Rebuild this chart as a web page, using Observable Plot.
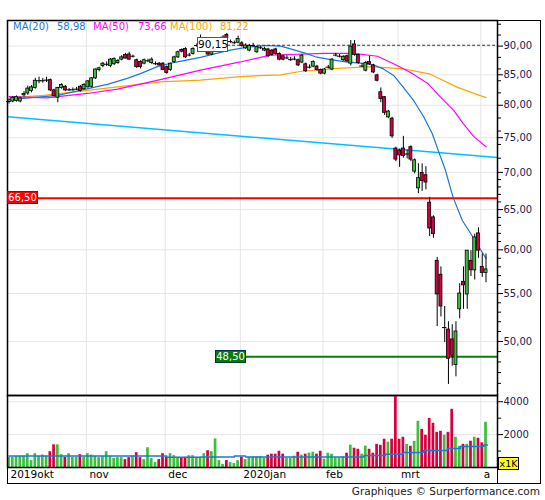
<!DOCTYPE html>
<html><head><meta charset="utf-8">
<script src="https://cdn.jsdelivr.net/npm/d3@7"></script>
<script src="https://cdn.jsdelivr.net/npm/@observablehq/plot@0.6"></script>
<style>
body{margin:0;background:#fff;font-family:"DejaVu Sans",sans-serif;}
#wrap{position:relative;width:545px;height:500px;overflow:hidden;background:#fff;}
#wrap svg{position:absolute;left:0;}
.box{position:absolute;font-size:10px;line-height:12px;text-align:center;box-sizing:border-box;white-space:nowrap;}
.leg{position:absolute;top:21px;font-size:10px;line-height:12px;white-space:nowrap;}
</style></head><body><div id="wrap"></div>
<script>
// ---- data ----
const openP = [80.6,80.6,80.7,80.6,81.6,81.9,82.3,82.8,84.0,84.0,84.1,84.1,82.4,81.2,82.8,83.0,82.5,82.5,82.6,83.0,82.6,
82.9,83.0,84.4,85.8,86.5,86.8,86.5,86.8,87.0,87.6,88.4,88.5,88.2,87.5,87.2,86.9,87.4,87.0,86.9,86.9,86.9,
86.3,85.8,87.2,88.0,89.3,89.5,88.4,88.6,90.1,91.4,89.7,89.2,88.5,90.0,90.4,91.6,92.0,90.8,90.6,90.6,
90.5,89.6,89.2,90.1,88.9,89.7,89.2,89.4,89.2,89.4,88.6,88.2,87.9,87.6,87.7,87.5,87.1,86.8,86.3,86.4,86.4,85.8,
85.2,86.3,85.9,88.4,88.2,87.5,88.2,86.9,90.3,88.4,86.5,85.7,87.2,86.6,84.9,82.1,81.3,78.1,77.9,73.4,
73.1,73.4,72.6,73.6,70.1,67.8,69.9,69.6,65.9,64.0,58.7,57.1,51.4,51.2,50.2,47.7,53.3,56.3,54.9,58.7,57.6,62.0,
58.0,57.3];
const highP = [81.0,81.4,81.5,81.3,82.2,83.1,83.2,84.4,84.6,84.4,84.6,84.3,82.6,82.9,83.5,83.2,82.7,82.8,82.9,83.2,83.5,
84.0,84.5,86.0,86.3,87.1,87.2,87.8,87.9,87.6,88.3,88.7,88.9,88.4,87.7,87.4,87.7,87.7,87.9,87.2,87.1,87.1,
86.5,87.0,88.2,89.1,89.5,89.7,88.7,89.7,90.4,92.0,90.8,89.4,89.6,90.5,91.2,91.9,92.3,91.1,90.9,91.8,
90.8,90.4,90.3,90.5,90.0,90.0,89.8,89.6,89.4,89.6,88.8,88.4,88.3,88.0,88.1,87.7,88.5,87.0,86.7,87.4,86.6,86.0,
86.1,86.6,87.8,88.7,88.5,88.3,88.4,91.0,91.0,88.6,86.9,87.3,88.2,86.8,85.1,82.8,81.4,79.2,78.1,73.6,
73.3,75.2,73.2,73.8,71.9,71.2,71.2,70.8,66.6,64.2,59.1,58.0,53.6,52.0,51.7,52.0,56.1,58.0,59.9,59.9,61.9,62.7,
59.5,59.5];
const lowP = [80.2,80.4,80.5,80.4,81.3,81.6,82.0,82.6,83.5,83.6,83.7,82.2,81.3,80.4,82.6,82.2,82.2,82.3,82.4,82.1,82.5,
82.8,82.8,84.2,85.5,86.2,86.4,86.2,86.6,86.8,87.4,87.7,87.5,87.9,86.1,86.0,86.7,87.1,86.8,86.6,86.5,85.7,
85.1,85.6,87.0,87.8,88.8,87.8,88.1,88.4,89.8,91.0,89.5,88.3,88.3,89.6,90.0,91.2,91.2,90.5,90.3,90.4,
89.8,89.4,89.0,89.8,88.7,89.4,89.0,88.0,88.2,88.4,87.4,87.4,87.6,87.3,87.4,86.4,86.9,85.4,86.0,86.2,85.6,85.0,
85.0,86.0,85.7,88.1,87.9,87.3,87.1,86.5,88.2,86.8,86.2,85.5,86.6,85.2,83.8,80.4,78.4,77.9,74.9,71.5,
70.7,72.0,71.9,71.5,69.8,67.1,67.4,67.6,61.6,61.4,51.5,52.5,49.9,45.9,47.6,46.6,52.3,53.3,53.3,56.9,56.5,59.0,
56.8,56.2];
const closeP = [80.6,81.2,81.3,81.1,81.8,82.7,82.9,84.0,84.0,84.0,84.1,82.4,81.5,82.8,83.3,82.4,82.5,82.5,82.6,82.3,83.3,
83.9,84.4,85.9,86.1,86.9,86.8,87.6,87.7,87.4,88.0,87.8,87.6,88.2,86.3,86.3,87.5,87.4,87.6,86.9,86.6,85.8,
85.3,86.9,88.0,88.9,89.0,88.0,88.4,89.5,90.1,91.4,90.5,88.5,89.4,90.2,90.8,91.6,91.4,90.8,90.6,91.3,
90.0,90.1,90.0,90.1,89.8,89.7,89.5,88.2,88.4,88.6,87.6,87.6,87.9,87.6,87.7,86.6,88.3,85.6,86.3,87.2,85.8,85.2,
85.9,86.3,87.6,88.4,88.2,88.1,87.3,89.9,88.4,87.0,86.5,87.0,86.8,85.4,84.0,81.0,78.8,79.0,75.2,71.8,
72.4,72.3,72.6,71.8,71.7,69.2,68.8,68.6,62.6,61.9,54.9,53.6,51.4,48.3,48.6,51.0,55.0,55.9,59.9,57.6,61.5,59.9,
57.3,57.7];
const volume = [620,620,680,680,680,840,420,840,680,760,680,960,1380,1380,780,620,840,620,620,780,
620,840,760,680,600,680,960,680,560,600,600,480,600,720,900,600,480,1200,540,300,
480,840,620,840,720,620,560,620,720,720,620,620,840,1020,960,1740,420,180,420,300,
240,420,620,480,620,
650,650,650,570,750,810,810,990,810,570,570,690,930,750,810,870,930,810,990,510,
870,810,590,590,650,870,1360,1170,1110,810,1300,1110,870,1410,1350,1720,1540,1720,4340,1720,
1840,1410,1290,1590,2810,2320,1960,2990,2690,2140,2200,1960,2140,3540,1840,1290,1410,1410,1600,1840,
1780,1500,2750];
// moving averages: [day index, value]
const ma20 = [[0,80.9],[13,81.6],[20.4,82.6],[26.2,83.4],[31.5,84.4],[35,85.2],[39.5,86.4],[43.8,87.1],[51,88.0],[58.2,89.2],[63.5,89.8],[68.3,90.1],[72.3,90.0],[75,89.5],[79,88.7],[81.6,88.1],[85.6,87.6],[89.6,87.2],[93.6,87.0],[97,86.7],[99.7,86.0],[102.4,84.9],[105,82.9],[107.7,80.8],[110.4,78.2],[112.7,75.6],[114.3,73.1],[116.2,70.3],[118,67.0],[118.4,66.4],[120.7,63.6],[123.3,61.7],[126,59.7],[127,58.98]];
const ma50 = [[0,81.4],[10,81.2],[20.9,81.9],[28.9,82.6],[40.3,84.2],[51,85.8],[61.6,87.2],[69.6,88.4],[75,88.5],[83.8,88.7],[91.7,88.7],[98.1,88.2],[102.4,86.9],[106.9,85.4],[111.4,83.6],[114.9,81.3],[118.4,79.2],[121,77.1],[123.7,75.2],[127,73.66]];
const ma100 = [[0,81.2],[9.2,81.6],[20.9,82.4],[40.3,83.8],[51,84.1],[61.6,84.7],[72.3,85.0],[77.9,85.6],[87.5,86.1],[96.3,86.4],[105,86.0],[112.2,85.1],[119.4,82.9],[127,81.22]];
const volMA = [[0,700],[42,620],[51,640],[60,700],[63,640],[65,646],[94.5,727],[100.2,808],[105,909],[110.4,1030],[116.7,1150],[120.2,1270],[126.4,1370],[127.4,1370]];
const trendIdx = [-0.4, 130.06];
const trendVal = [78.2, 72.1];
const monthStart = [0,21,42,62,84,104,126];
const monthLabels = ["2019okt","nov","dec","2020jan","feb","mrt","a"];
const priceMajor = [50,55,60,65,70,75,80,85,90];
const priceMinor = [46,47,48,49,51,52,53,54,56,57,58,59,61,62,63,64,66,67,68,69,72,74,76,78,82,84,86,88,92,94];
const volMajor = [2000,4000];
const volMinor = [1000,3000];
const legend = [["MA(20)","58,98"],["MA(50)","73,66"],["MA(100)","81,22"]];
const highLevel = 90.15, resistance = 66.5, support = 48.5;

// ---- styles ----
const GREEN="#3cbf3c", RED="#d6003e", BLUE="#1a78d8", MAG="#ff00ff", ORG="#ffa500", SKY="#00bfff", NAVY="#1a1a55";
const X_DOMAIN = [-0.4, 130.06];
const fmt = d => d.toFixed(2).replace(".", ",");
const rows = closeP.map((c,i)=>({i, o:openP[i], h:highP[i], l:lowP[i], c, v:volume[i], up: c>=openP[i]}));
const pts = a => a.map(([i,v])=>({i,v}));
const style = {fontFamily:"DejaVu Sans, sans-serif", fontSize:"10px", background:"transparent", overflow:"visible", color:"#000"};

const main = Plot.plot({
  width:545, height:395, marginTop:20, marginBottom:0, marginLeft:7, marginRight:48, style,
  x:{domain:X_DOMAIN, axis:null},
  y:{type:"log", domain:[44.9,94.7]},
  color:{type:"identity"},
  marks:[
    Plot.ruleY(priceMajor, {stroke:"#e6e6e6"}),
    Plot.ruleX(monthStart.slice(1), {x:d=>d-0.4, stroke:"#e6e6e6"}),
    Plot.line(trendIdx.map((i,k)=>({i, v:trendVal[k]})), {x:"i", y:"v", stroke:SKY, strokeWidth:1.5}),
    Plot.line(pts(ma100), {x:"i", y:"v", stroke:ORG, strokeWidth:1.2}),
    Plot.line(pts(ma50), {x:"i", y:"v", stroke:MAG, strokeWidth:1.2}),
    Plot.line(pts(ma20), {x:"i", y:"v", stroke:BLUE, strokeWidth:1.2}),
    Plot.ruleY([resistance], {stroke:"#ff0000", strokeWidth:2}),
    Plot.ruleY([support], {x1:63, x2:X_DOMAIN[1], stroke:"#0a800a", strokeWidth:2}),
    Plot.ruleY([highLevel], {x1:58.2, x2:X_DOMAIN[1], stroke:"#333", strokeDasharray:"3,2"}),
    Plot.ruleX(rows, {x:"i", y1:"l", y2:"h", stroke:"#000", strokeWidth:1}),
    Plot.rect(rows, {x1:d=>d.i-0.4, x2:d=>d.i+0.4, y1:"o", y2:"c", fill:d=>d.up?GREEN:RED, stroke:"#000", strokeWidth:0.8}),
    Plot.ruleY(rows.filter(d=>Math.abs(d.o-d.c)<0.12), {y:"c", x1:d=>d.i-0.6, x2:d=>d.i+0.6, stroke:"#000", strokeWidth:1}),
    Plot.frame({stroke:"#000", strokeWidth:1.5}),
    Plot.axisY(priceMajor, {anchor:"right", tickSize:5, tickPadding:1, tickFormat:fmt, fill:NAVY, stroke:"#000", label:null}),
    Plot.axisY(priceMinor, {anchor:"right", tickSize:3, tickFormat:()=>"", stroke:"#000", label:null})
  ]
});
main.style.top = "0px";

const vol = Plot.plot({
  width:545, height:88, marginTop:0, marginBottom:16, marginLeft:7, marginRight:48, style,
  x:{domain:X_DOMAIN},
  y:{domain:[0,4380]},
  color:{type:"identity"},
  marks:[
    Plot.ruleY(volMajor, {stroke:"#e6e6e6"}),
    Plot.ruleX(monthStart.slice(1), {x:d=>d-0.4, stroke:"#e6e6e6"}),
    Plot.rect(rows, {x1:d=>d.i-0.36, x2:d=>d.i+0.36, y1:0, y2:"v", fill:d=>d.up?GREEN:RED}),
    Plot.line(volMA, {x:d=>d[0], y:d=>d[1], stroke:BLUE, strokeWidth:1.5, curve:"step-after"}),
    Plot.frame({stroke:"#000", strokeWidth:1.5}),
    Plot.axisY(volMajor, {anchor:"right", tickSize:5, tickPadding:1, tickFormat:d=>String(d), fill:NAVY, stroke:"#000", label:null}),
    Plot.axisY(volMinor, {anchor:"right", tickSize:3, tickFormat:()=>"", stroke:"#000", label:null}),
    Plot.axisX(monthStart, {anchor:"bottom", tickSize:0, tickPadding:3, textAnchor:"start", dx:1.5, fontSize:10.5,
      tickFormat:d=>monthLabels[monthStart.indexOf(d)], fill:"#000", label:null})
  ]
});
vol.style.top = "395px";

const wrap = document.getElementById("wrap");
wrap.appendChild(main);
wrap.appendChild(vol);

function addDiv(css, html){ const d=document.createElement("div"); d.style.cssText=css; if(html!=null) d.innerHTML=html; wrap.appendChild(d); return d; }
// outer frame
addDiv("position:absolute;left:6.5px;top:19.5px;width:534px;height:464px;border:1.5px solid #000;box-sizing:border-box;pointer-events:none;");
addDiv("position:absolute;left:496.5px;top:467px;width:1.5px;height:16px;background:#000;");

// legend
const legColors = [BLUE, MAG, ORG];
const legX = [[13,57],[93,138],[170,220]];
legend.forEach(([name,val],k)=>{
  addDiv(`left:${legX[k][0]}px;color:${legColors[k]}`, name).className="leg";
  addDiv(`left:${legX[k][1]}px;color:${legColors[k]}`, val).className="leg";
});

// level labels via scales
const xs = main.scale("x"), ys = main.scale("y");
function levelBox(value, atIdx, css, h){
  const left = xs.apply(atIdx), top = ys.apply(value) - h/2;
  const d = addDiv(`left:${left}px;top:${top}px;width:31px;height:${h}px;line-height:${h-2}px;${css}`, fmt(value));
  d.className = "box";
}
levelBox(resistance, -0.4, "background:#ff0000;color:#fff;border:1px solid #a00;", 13);
levelBox(support, 55, "background:#0a7a0a;color:#fff;border:1px solid #034;", 13);
levelBox(highLevel, 50.2, "background:#fff;color:#000;border:1px solid #555;font-size:10.5px;", 15);

// x1K marker
addDiv("position:absolute;left:498px;top:457px;width:21px;height:13px;background:#ffff00;border:1px solid #000;box-sizing:border-box;font-size:9.5px;line-height:11px;text-align:center;", "x1K");
// caption
addDiv("position:absolute;right:5px;top:485px;font-size:10.5px;color:#222;white-space:nowrap;", "Graphiques © Surperformance.com");
</script></body></html>
